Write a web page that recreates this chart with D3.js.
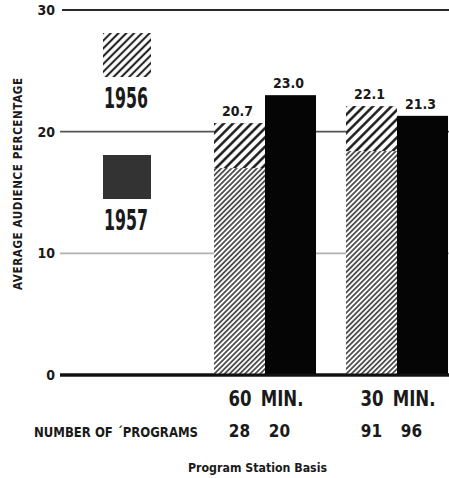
<!DOCTYPE html>
<html><head><meta charset="utf-8">
<script src="https://cdn.jsdelivr.net/npm/d3@7"></script>
<style>
html,body{margin:0;padding:0;background:#fff;}
svg{display:block;}
text{font-family:"Liberation Sans Narrow","DejaVu Sans Condensed","Liberation Sans",sans-serif;font-weight:bold;fill:#1a1a1a;}
</style></head>
<body>
<script>
// ---- data ----
const groups = ["60 MIN.", "30 MIN."];
const series = ["1956", "1957"];
const values1956 = [20.7, 22.1];
const values1957 = [23.0, 21.3];
const programs1956 = [28, 91];
const programs1957 = [20, 96];
const yTicks = [0, 10, 20, 30];
const yTitle = "AVERAGE AUDIENCE PERCENTAGE";
const rowTitle = "NUMBER OF \u00B4PROGRAMS";
const footnote = "Program Station Basis";

const W = 449, H = 478;
const svg = d3.select("body").append("svg").attr("width", W).attr("height", H);

const defs = svg.append("defs");
function hatch(id, spacing, width, color) {
  const p = defs.append("pattern").attr("id", id)
    .attr("patternUnits", "userSpaceOnUse")
    .attr("width", spacing).attr("height", spacing)
    .attr("patternTransform", "rotate(45)");
  p.append("rect").attr("width", spacing).attr("height", spacing).attr("fill", "#fff");
  p.append("line").attr("x1", spacing / 2).attr("y1", 0).attr("x2", spacing / 2).attr("y2", spacing)
    .attr("stroke", color).attr("stroke-width", width);
}
hatch("fine", 3.6, 1.8, "#505050");
hatch("coarse", 6.5, 2.4, "#111");
hatch("legend", 5.5, 2.1, "#222");

const y = d3.scaleLinear().domain([0, 30]).range([375, 10]);
const x0 = d3.scaleBand().domain(groups).range([199, 463]).paddingInner(0.227).paddingOuter(0.1135);
const x1 = d3.scaleBand().domain(series).range([0, x0.bandwidth()]).padding(0);

// gridlines
const gridStyle = {0: ["#222", 3], 10: ["#b0b0b0", 1.6], 20: ["#555", 1.6], 30: ["#2a2a2a", 2]};
svg.append("g").selectAll("line").data(yTicks).join("line")
  .attr("x1", d => d === 30 ? 62 : 60).attr("x2", W)
  .attr("y1", d => y(d)).attr("y2", d => y(d))
  .attr("stroke", d => gridStyle[d][0]).attr("stroke-width", d => gridStyle[d][1]);

// y tick labels
const yAxis = d3.axisLeft(y).tickValues(yTicks).tickSize(0).tickPadding(0).tickFormat(d3.format("d"));
const gy = svg.append("g").attr("transform", "translate(55,0)").call(yAxis);
gy.select(".domain").remove();
gy.selectAll("text").attr("font-size", 14).attr("font-family", null).attr("fill", "#1a1a1a");

// y title
svg.append("text").attr("transform", `translate(22,${(78 + 290) / 2}) rotate(-90)`)
  .attr("text-anchor", "middle").attr("font-size", 11.5)
  .attr("textLength", 212).attr("lengthAdjust", "spacing")
  .text(yTitle);

// bars
const rows = groups.map((g, i) => ({group: g, vals: [
  {s: "1956", v: values1956[i], n: programs1956[i]},
  {s: "1957", v: values1957[i], n: programs1957[i]}]}));

const gg = svg.append("g").selectAll("g").data(rows).join("g")
  .attr("transform", d => `translate(${x0(d.group)},0)`);

gg.each(function(row) {
  const g = d3.select(this);
  row.vals.forEach(d => {
    const bx = x1(d.s), bw = x1.bandwidth();
    if (d.s === "1956") {
      g.append("rect").attr("x", bx).attr("y", y(d.v)).attr("width", bw).attr("height", y(0) - y(d.v))
        .attr("fill", "url(#fine)");
      g.append("rect").attr("x", bx).attr("y", y(d.v)).attr("width", bw)
        .attr("height", Math.min(45, y(0) - y(d.v)))
        .attr("fill", "url(#coarse)");
    } else {
      g.append("rect").attr("x", bx).attr("y", y(d.v)).attr("width", bw).attr("height", y(0) - y(d.v))
        .attr("fill", "#050505");
    }
    g.append("text").attr("x", bx + bw / 2 - 2).attr("y", y(d.v) - 7)
      .attr("text-anchor", "middle").attr("font-size", 14).text(d3.format(".1f")(d.v));
    g.append("text").attr("x", bx + bw / 2 + (d.s === "1957" ? -11 : 0)).attr("y", 437)
      .attr("text-anchor", "middle").attr("font-size", 17).text(d.n);
  });
});

// redraw the baseline on top of the bars
svg.append("line").attr("x1", 60).attr("x2", W).attr("y1", y(0)).attr("y2", y(0))
  .attr("stroke", "#111").attr("stroke-width", 3);

// group labels
svg.append("g").selectAll("text").data(groups).join("text")
  .attr("x", d => x0(d) + x0.bandwidth() / 2 + 1).attr("y", 406)
  .attr("text-anchor", "middle").attr("font-size", 22)
  .attr("textLength", 75).attr("lengthAdjust", "spacingAndGlyphs")
  .attr("word-spacing", 4)
  .text(d => d);

// row title & footnote
svg.append("text").attr("x", 34).attr("y", 437).attr("font-size", 14)
  .attr("textLength", 164).attr("lengthAdjust", "spacingAndGlyphs").text(rowTitle);
svg.append("text").attr("x", 188).attr("y", 472).attr("font-size", 13)
  .attr("textLength", 139).attr("lengthAdjust", "spacingAndGlyphs").text(footnote);

// legend
const legend = [
  {s: "1956", fill: "url(#legend)", sy: 33, ty: 108},
  {s: "1957", fill: "#333", sy: 155, ty: 230}];
const lg = svg.append("g").selectAll("g").data(legend).join("g");
lg.append("rect").attr("x", 103).attr("y", d => d.sy).attr("width", 48).attr("height", 44)
  .attr("fill", d => d.fill);
lg.append("text").attr("x", 126).attr("y", d => d.ty).attr("text-anchor", "middle")
  .attr("font-size", 28).attr("textLength", 44).attr("lengthAdjust", "spacingAndGlyphs")
  .attr("fill", "#222").text(d => d.s);
</script>
</body></html>
